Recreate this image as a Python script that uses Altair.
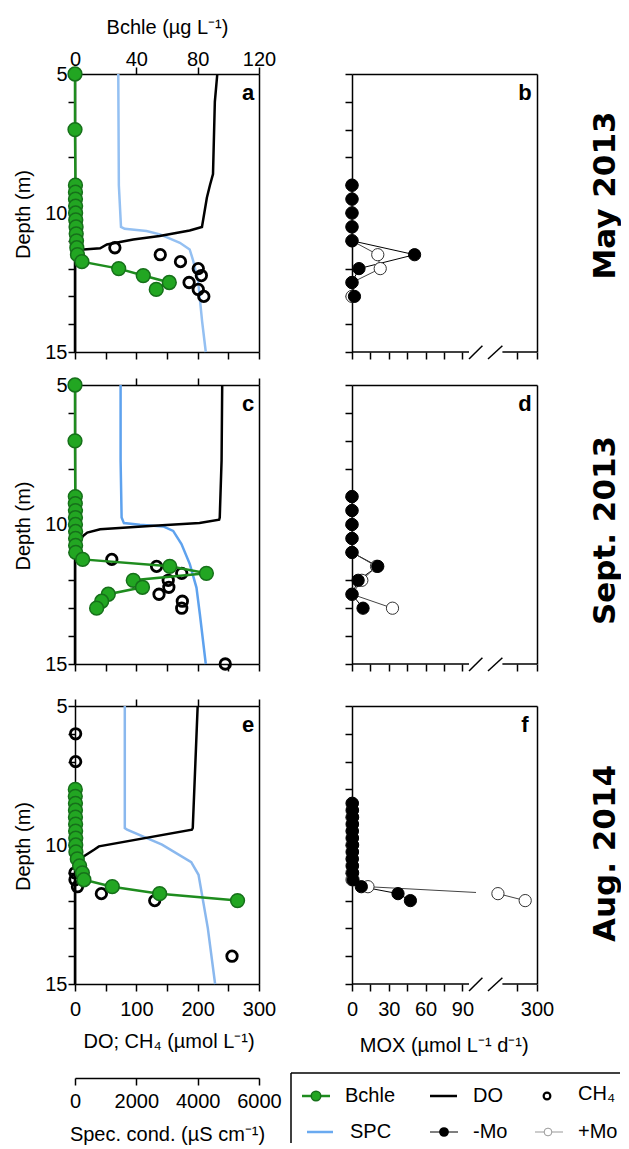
import altair as alt
import pandas as pd

# ---------------- data ----------------
# May 2013 (panels a, b)
a_bchle_depth = [5, 7, 9.0, 9.25, 9.5, 9.75, 10.0, 10.25, 10.5, 10.75, 11.0, 11.25, 11.5, 11.75, 12.0, 12.25, 12.5, 12.75]
a_bchle = [0.0, 0.0, 0.3, 0.3, 0.3, 0.4, 0.4, 0.5, 0.7, 0.8, 1.0, 1.2, 1.6, 4.5, 28.5, 44.5, 61.5, 53.0]
a_do_depth = [5, 6, 8.6, 9.0, 9.45, 10.5, 10.63, 10.83, 10.95, 11.13, 11.27, 11.31, 11.37, 15]
a_do = [232, 228, 225, 220, 215, 207, 187, 138, 95, 52, 41, 14, 0, 0]
a_spc_depth = [5, 9.0, 10.5, 10.57, 10.65, 10.77, 11.07, 11.31, 11.7, 12.45, 13.9, 15]
a_spc = [1411, 1430, 1500, 1620, 2330, 2770, 3420, 3740, 3850, 4015, 4145, 4265]
a_ch4_depth = [11.25, 11.5, 11.75, 12.0, 12.25, 12.5, 12.75, 13.0]
a_ch4 = [65, 139, 172, 201, 206, 186, 201, 210]
b_depth = [9.0, 9.5, 10.0, 10.5, 11.0, 11.5, 12.0, 12.5, 13.0]
b_mox_minus = [0, 0, 0, 0, 0, 51, 5.7, 0, 2]
b_mox_plus = [0, 0, 0, 0, 0, 21, 23, 0, 0]

# Sept. 2013 (panels c, d)
c_bchle_depth = [5, 7, 9.0, 9.25, 9.5, 9.75, 10.0, 10.25, 10.5, 10.75, 11.0, 11.25, 11.5, 11.75, 12.0, 12.25, 12.5, 12.75, 13.0]
c_bchle = [0.0, 0.0, 0.2, 0.2, 0.3, 0.3, 0.3, 0.4, 0.4, 0.4, 0.5, 5.0, 61.8, 85.7, 38.0, 44.0, 21.7, 17.4, 14.1]
c_do_depth = [5, 7.7, 9.75, 9.83, 9.95, 10.05, 10.17, 10.29, 10.4, 10.58, 10.94, 11.3, 15]
c_do = [240, 239, 236, 235, 203, 122, 41, 20, 13.6, 8, 1.6, 0, 0]
c_spc_depth = [5, 7.7, 9.75, 9.95, 10.01, 10.07, 10.23, 10.7, 11.42, 12.26, 13.2, 15]
c_spc = [1487, 1487, 1520, 1595, 2116, 2876, 3201, 3472, 3744, 3961, 4070, 4265]
c_ch4_depth = [11.25, 11.5, 11.75, 12.0, 12.25, 12.5, 12.75, 13.0, 15.0]
c_ch4 = [60, 133, 174, 152, 153, 137, 175, 174, 245]
d_depth = [9.0, 9.5, 10.0, 10.5, 11.0, 11.5, 12.0, 12.5, 13.0]
d_mox_minus = [0, 0, 0, 0, 0, 21, 5, 0, 9]
d_mox_plus = [0, 0, 0, 0, 0, 20, 8, 0, 33]

# Aug. 2014 (panels e, f)
e_bchle_depth = [8.0, 8.25, 8.5, 8.75, 9.0, 9.25, 9.5, 9.75, 10.0, 10.25, 10.5, 10.75, 11.0, 11.25, 11.5, 11.75, 12.0]
e_bchle = [0.2, 0.2, 0.3, 0.3, 0.3, 0.4, 0.4, 0.5, 0.5, 0.6, 1.5, 3.0, 4.8, 5.8, 24.3, 55.2, 106.0]
e_do_depth = [5, 9.39, 9.45, 10.05, 10.17, 10.4, 10.65, 10.95, 15]
e_do = [200, 192, 190.6, 39, 31, 14.6, 3.8, 0, 0]
e_spc_depth = [5, 9.39, 9.45, 9.99, 10.62, 11.07, 12.99, 15]
e_spc = [1624, 1624, 1700, 2838, 3790, 4028, 4331, 4569]
e_ch4_depth = [6.0, 7.0, 11.0, 11.25, 11.5, 11.75, 12.0, 14.0]
e_ch4 = [1, 1, 0, 0, 4, 43, 130, 256]
f_depth = [8.5, 8.75, 9.0, 9.25, 9.5, 9.75, 10.0, 10.25, 10.5, 10.75, 11.0, 11.25, 11.5, 11.75, 12.0]
f_mox_minus = [0.3, 0.4, 0.5, 0.4, 0.3, 0.4, 0.5, 0.4, 0.3, 0.4, 0.5, 0.8, 7.6, 37.5, 47.6]
f_mox_plus = [0, 0, 0, 0, 0, 0, 0, 0, 0, 0, 0, 0, 13, 204, 271]

row_labels = ["May 2013", "Sept. 2013", "Aug. 2014"]
panel_letters = ["a", "b", "c", "d", "e", "f"]
legend_labels = ["Bchle", "DO", "CH\u2084", "SPC", "-Mo", "+Mo"]

# ---------------- styling / layout ----------------
FONT = "Liberation Sans"
LW, RW = 184, 185
HEIGHTS = [278, 279, 278]
GREEN_LINE = "#1e8c1e"
GREEN_FILL = "#22a622"
GREEN_STROKE = "#16701a"
SPC_COLORS = ["#94c0f2", "#5ea2ee", "#8ab8ee"]

AX = dict(labelFont=FONT, titleFont=FONT, labelColor="black", titleColor="black",
          tickColor="black", domainColor="black", domainWidth=1.5, tickWidth=1.5,
          labelFontSize=20, titleFontSize=20, titleFontWeight="normal", grid=False)


def yscale():
    return alt.Scale(domain=[5, 15], reverse=True, nice=False, zero=False)


def left_panel(i, bd, bv, dd, dv, sd, sv, cd, cv):
    h = HEIGHTS[i]
    letter = panel_letters[2 * i]
    df_b = pd.DataFrame({"depth": bd, "b": bv})
    df_do = pd.DataFrame({"depth": dd, "v": dv})
    df_s = pd.DataFrame({"depth": sd, "spc": sv})
    df_c = pd.DataFrame({"depth": cd, "v": cv})

    y_left = alt.Axis(orient="left", values=list(range(5, 16)),
                      labelExpr="datum.value % 5 === 0 ? datum.label : ''",
                      tickSize=7, labelPadding=1, labelFlush=False, labelOverlap=False,
                      title="Depth (m)", titleX=-51.7, titleY=h / 2 + 1, titleAngle=270,
                      titleAlign="center", titleBaseline="middle", **AX)
    y_right = alt.Axis(orient="right", ticks=False, labels=False, title=None, **AX)

    last = (i == 2)
    if last:
        x_bottom = alt.Axis(orient="bottom", values=[0, 50, 100, 150, 200, 250, 300],
                            labelExpr="datum.value % 100 === 0 ? datum.label : ''",
                            tickSize=7, labelPadding=8, labelFlush=False, labelOverlap=False,
                            title="DO; CH\u2084 (\u00b5mol L\u207b\u00b9)", titleX=93.5, titleY=63.5,
                            titleAlign="center", titleBaseline="alphabetic", **AX)
    else:
        x_bottom = alt.Axis(orient="bottom", values=[0, 50, 100, 150, 200, 250, 300],
                            tickSize=7, labels=False, title=None, **AX)
    if i == 0:
        x_top = alt.Axis(orient="top", values=[0, 40, 80, 120], tickSize=7, labelPadding=2,
                         labelBaseline="alphabetic", labelFlush=False, labelOverlap=False,
                         title="Bchle  (\u00b5g L\u207b\u00b9)", titleX=92, titleY=-40.7,
                         titleAlign="center", titleBaseline="alphabetic", **AX)
    else:
        x_top = alt.Axis(orient="top", values=[0, 40, 80, 120], tickSize=7, labels=False,
                         title=None, **AX)

    spc = alt.Chart(df_s).mark_line(color=SPC_COLORS[i], strokeWidth=2.5).encode(
        x=alt.X("spc:Q", scale=alt.Scale(domain=[0, 6000], nice=False, zero=False), axis=None),
        y=alt.Y("depth:Q", scale=yscale(), axis=y_left),
        order="depth:Q")
    do = alt.Chart(df_do).mark_line(color="black", strokeWidth=2.5).encode(
        x=alt.X("v:Q", scale=alt.Scale(domain=[0, 300], nice=False, zero=False), axis=x_bottom),
        y=alt.Y("depth:Q", scale=yscale(), axis=y_right),
        order="depth:Q")
    ch4 = alt.Chart(df_c).mark_point(shape="circle", filled=False, color="black",
                                     strokeWidth=2.8, size=110, opacity=1).encode(
        x=alt.X("v:Q", scale=alt.Scale(domain=[0, 300], nice=False, zero=False), axis=None),
        y=alt.Y("depth:Q", scale=yscale(), axis=None))
    bl = alt.Chart(df_b).mark_line(color=GREEN_LINE, strokeWidth=2.5).encode(
        x=alt.X("b:Q", scale=alt.Scale(domain=[0, 120], nice=False, zero=False), axis=x_top),
        y=alt.Y("depth:Q", scale=yscale(), axis=None),
        order="depth:Q")
    bp = alt.Chart(df_b).mark_point(shape="circle", filled=True, fill=GREEN_FILL,
                                    stroke=GREEN_STROKE, strokeWidth=1.5, size=190, opacity=1).encode(
        x=alt.X("b:Q", scale=alt.Scale(domain=[0, 120], nice=False, zero=False), axis=None),
        y=alt.Y("depth:Q", scale=yscale(), axis=None))
    txt = alt.Chart(pd.DataFrame({"t": [letter]})).mark_text(
        font=FONT, fontSize=22, fontWeight="bold", align="center", baseline="alphabetic").encode(
        text="t:N", x=alt.value(LW - 11), y=alt.value(26))
    return alt.layer(spc, do, ch4, bl, bp, txt).resolve_scale(x="independent").resolve_axis(
        y="independent").properties(width=LW, height=h)


def mox_scale():
    return alt.Scale(domain=[0, 100, 200, 300], range=[0, 122.7, 144.3, RW], nice=False, zero=False)


def right_panel(i, depth, minus, plus, title_y):
    h = HEIGHTS[i]
    letter = panel_letters[2 * i + 1]
    df = pd.DataFrame({"depth": depth, "minus": minus, "plus": plus})
    last = (i == 2)
    y_left = alt.Axis(orient="left", values=list(range(5, 16)), tickSize=7, labels=False,
                      title=None, **AX)
    ax_r = dict(AX)
    ax_r.update(titleFont="DejaVu Sans", titleFontWeight="bold", titleFontSize=31)
    y_right = alt.Axis(orient="right", ticks=False, labels=False,
                       title=row_labels[i], titleAngle=270, titleX=68, titleY=title_y,
                       titleAlign="center", titleBaseline="middle", **ax_r)
    ticks = [0, 15, 30, 45, 60, 75, 90, 250, 300]
    if last:
        x_bottom = alt.Axis(orient="bottom", values=ticks, domain=False, tickSize=7,
                            labelExpr="(datum.value % 30 === 0 && datum.value <= 90) || datum.value === 300 ? datum.label : ''",
                            labelPadding=8, labelFlush=False, labelOverlap=False,
                            title="MOX (\u00b5mol L\u207b\u00b9 d\u207b\u00b9)", titleX=91.7, titleY=67.7,
                            titleAlign="center", titleBaseline="alphabetic", **AX)
    else:
        x_bottom = alt.Axis(orient="bottom", values=ticks, domain=False, tickSize=7,
                            labels=False, title=None, **AX)
    x_top = alt.Axis(orient="top", ticks=False, labels=False, title=None, **AX)

    lm = alt.Chart(df).mark_line(color="black", strokeWidth=1).encode(
        x=alt.X("minus:Q", scale=mox_scale(), axis=x_bottom),
        y=alt.Y("depth:Q", scale=yscale(), axis=y_left), order="depth:Q")
    lp = alt.Chart(df).mark_line(color="#444444", strokeWidth=1).encode(
        x=alt.X("plus:Q", scale=mox_scale(), axis=x_top),
        y=alt.Y("depth:Q", scale=yscale(), axis=y_right), order="depth:Q")
    pp = alt.Chart(df).mark_point(shape="circle", filled=True, fill="white", stroke="#333333",
                                  strokeWidth=1, size=150, opacity=1).encode(
        x=alt.X("plus:Q", scale=mox_scale(), axis=None),
        y=alt.Y("depth:Q", scale=yscale(), axis=None))
    pm = alt.Chart(df).mark_point(shape="circle", filled=True, fill="black", stroke="black",
                                  strokeWidth=1, size=150, opacity=1).encode(
        x=alt.X("minus:Q", scale=mox_scale(), axis=None),
        y=alt.Y("depth:Q", scale=yscale(), axis=None))
    base = alt.Chart(pd.DataFrame({"k": [0]}))
    layers = [lm, lp]
    if last:
        layers.append(base.mark_rect(color="white").encode(
            x=alt.value(124), x2=alt.value(141), y=alt.value(176), y2=alt.value(196)))
    layers += [pp, pm]
    # broken bottom axis line with break marks
    layers += [
        base.mark_rule(color="black", strokeWidth=1.5).encode(x=alt.value(0), x2=alt.value(117), y=alt.value(h)),
        base.mark_rule(color="black", strokeWidth=1.5).encode(x=alt.value(150.4), x2=alt.value(RW), y=alt.value(h)),
        base.mark_rule(color="black", strokeWidth=1.5).encode(x=alt.value(117), x2=alt.value(130.4), y=alt.value(h + 7), y2=alt.value(h - 6.3)),
        base.mark_rule(color="black", strokeWidth=1.5).encode(x=alt.value(136), x2=alt.value(150.4), y=alt.value(h + 7), y2=alt.value(h - 6.3)),
    ]
    layers.append(alt.Chart(pd.DataFrame({"t": [letter]})).mark_text(
        font=FONT, fontSize=22, fontWeight="bold", align="center", baseline="alphabetic").encode(
        text="t:N", x=alt.value(RW - 12), y=alt.value(26)))
    return alt.layer(*layers).resolve_axis(x="independent", y="independent").properties(width=RW, height=h)


def spacer(h):
    return alt.Chart(pd.DataFrame({"k": [0]})).mark_point(opacity=0).encode(
        x=alt.value(0), y=alt.value(0)).properties(width=1, height=h)


def spc_axis_chart():
    df = pd.DataFrame({"spc": [0, 6000]})
    return alt.Chart(df).mark_point(opacity=0).encode(
        x=alt.X("spc:Q", scale=alt.Scale(domain=[0, 6000], nice=False, zero=False),
                axis=alt.Axis(orient="bottom", values=[0, 2000, 4000, 6000], format="d", tickSize=7,
                              labelPadding=6.4, labelFlush=False, labelOverlap=False,
                              title="Spec. cond. (\u00b5S cm\u207b\u00b9)", titleX=92, titleY=62.5,
                              titleAlign="center", titleBaseline="alphabetic", **AX)),
        y=alt.value(2)).properties(width=LW, height=5)


def legend_chart():
    base = alt.Chart(pd.DataFrame({"k": [0]}))
    L = -61
    r1, r2 = 23, 59
    layers = [
        base.mark_rule(color="black", strokeWidth=1.5).encode(x=alt.value(L), x2=alt.value(268), y=alt.value(0)),
        base.mark_rule(color="black", strokeWidth=1.5).encode(x=alt.value(L), y=alt.value(0), y2=alt.value(70)),
        # Bchle
        base.mark_rule(color=GREEN_LINE, strokeWidth=2.5).encode(x=alt.value(-50), x2=alt.value(-22), y=alt.value(r1)),
        base.mark_point(shape="circle", filled=True, fill=GREEN_FILL, stroke=GREEN_STROKE, strokeWidth=1.5, size=90, opacity=1).encode(x=alt.value(-36), y=alt.value(r1)),
        # DO
        base.mark_rule(color="black", strokeWidth=2.5).encode(x=alt.value(78), x2=alt.value(105), y=alt.value(r1)),
        # CH4
        base.mark_point(shape="circle", filled=False, color="black", strokeWidth=2.2, size=45, opacity=1).encode(x=alt.value(195), y=alt.value(r1)),
        # SPC
        base.mark_rule(color="#6aaaf0", strokeWidth=2.5).encode(x=alt.value(-45), x2=alt.value(-19), y=alt.value(r2)),
        # -Mo
        base.mark_rule(color="black", strokeWidth=1).encode(x=alt.value(78), x2=alt.value(106), y=alt.value(r2)),
        base.mark_point(shape="circle", filled=True, fill="black", stroke="black", size=60, opacity=1).encode(x=alt.value(92), y=alt.value(r2)),
        # +Mo
        base.mark_rule(color="#999999", strokeWidth=1).encode(x=alt.value(183), x2=alt.value(211), y=alt.value(r2)),
        base.mark_point(shape="circle", filled=True, fill="white", stroke="#999999", strokeWidth=1, size=60, opacity=1).encode(x=alt.value(196), y=alt.value(r2)),
    ]
    text_pos = [(-7, r1), (121, r1), (226, r1 - 2), (-2, r2), (121, r2), (226, r2)]
    for lab, (tx, ty) in zip(legend_labels, text_pos):
        layers.append(alt.Chart(pd.DataFrame({"label": [lab]})).mark_text(
            font=FONT, fontSize=20, align="left", baseline="middle", color="black").encode(
            text="label:N", x=alt.value(tx), y=alt.value(ty)))
    return alt.layer(*layers).properties(width=RW, height=70)


pa = left_panel(0, a_bchle_depth, a_bchle, a_do_depth, a_do, a_spc_depth, a_spc, a_ch4_depth, a_ch4)
pb = right_panel(0, b_depth, b_mox_minus, b_mox_plus, 121)
pc = left_panel(1, c_bchle_depth, c_bchle, c_do_depth, c_do, c_spc_depth, c_spc, c_ch4_depth, c_ch4)
pd_ = right_panel(1, d_depth, d_mox_minus, d_mox_plus, 145)
pe = left_panel(2, e_bchle_depth, e_bchle, e_do_depth, e_do, e_spc_depth, e_spc, e_ch4_depth, e_ch4)
pf = right_panel(2, f_depth, f_mox_minus, f_mox_plus, 147)

chart = alt.concat(
    pa, pb,
    spacer(33), spacer(33),
    pc, pd_,
    spacer(42), spacer(42),
    pe, pf,
    spacer(89), spacer(89),
    spc_axis_chart(), legend_chart(),
    columns=2, spacing={"row": 0, "column": 93}, bounds="flush", align="each",
).properties(
    padding={"left": 5, "top": 9, "right": 0, "bottom": 0},
    background="white",
).configure_view(stroke=None).configure_axis(**AX)

chart.save("out.html", embed_options={"renderer": "svg", "actions": False})
